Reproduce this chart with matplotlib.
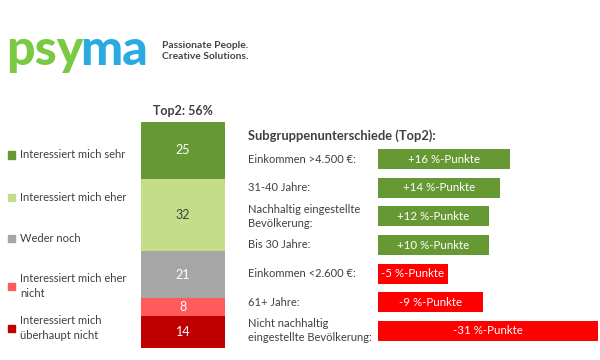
import matplotlib.pyplot as plt
import numpy as np

# Data
categories = ['Interessiert mich sehr', 'Interessiert mich eher', 'Weder noch',
              'Interessiert mich eher\nnicht', 'Interessiert mich\nüberhaupt nicht']
shares = [25, 32, 21, 8, 14]
seg_colors = ['#669933', '#c4dd88', '#a6a6a6', '#ff5b5b', '#c00000']
seg_text_colors = ['white', '#404040', 'white', 'white', 'white']

groups = ['Einkommen >4.500 €:', '31-40 Jahre:', 'Nachhaltig eingestellte\nBevölkerung:',
          'Bis 30 Jahre:', 'Einkommen <2.600 €:', '61+ Jahre:',
          'Nicht nachhaltig\neingestellte Bevölkerung:']
diffs = [16, 14, 12, 10, -5, -9, -31]
# displayed bar lengths (not proportional in original)
bar_lengths = [132, 122, 111, 111, 70, 105, 220]

top2_label = 'Top2: 56%'

plt.rcParams['font.family'] = ['Lato', 'DejaVu Sans']

W, H = 600, 360
fig = plt.figure(figsize=(6, 3.6), dpi=100)


def fx(px):
    return px / W


def fy(py):
    return 1 - py / H


# Logo
t1 = fig.text(fx(6), fy(65), 'psy', color='#7ac943', fontsize=36, fontweight=900,
              va='baseline', ha='left')
fig.text(fx(80), fy(65), 'ma', color='#29abe2', fontsize=36, fontweight=900,
         va='baseline', ha='left')
fig.text(fx(162), fy(51), 'Passionate People.\nCreative Solutions.', color='#444444',
         fontsize=7.4, fontweight='bold', va='center', ha='left', linespacing=1.15)

# Stacked bar
ax1 = fig.add_axes([fx(141), fy(348), fx(84), 226 / H])
bottom = 0
for val, col, tc in zip(shares, seg_colors, seg_text_colors):
    ax1.bar(0, val, bottom=bottom, width=1, color=col, edgecolor='none')
    ax1.text(0, bottom + val / 2, str(val), ha='center', va='center', color=tc, fontsize=9)
    bottom += val
ax1.set_xlim(-0.5, 0.5)
ax1.set_ylim(100, 0)
ax1.axis('off')

fig.text(fx(183), fy(111), top2_label, ha='center', va='center', fontsize=9,
         fontweight='bold', color='#404040')

# Legend on the left
leg_y = [155, 197, 238, 286, 328]
for cat, col, y in zip(categories, seg_colors, leg_y):
    fig.patches.append(plt.Rectangle((fx(8), fy(y) - 3.5 / H), 7 / W, 7 / H,
                                     transform=fig.transFigure, color=col))
    fig.text(fx(20), fy(y), cat, ha='left', va='center', fontsize=8,
             color='#404040', linespacing=1.4)

# Subgroup differences
fig.text(fx(248), fy(136), 'Subgruppenunterschiede (Top2):', ha='left', va='center',
         fontsize=9.3, fontweight='bold', color='#404040')

ax2 = fig.add_axes([fx(378), fy(345), fx(220), 200 / H])
ypos = np.arange(len(diffs))
colors2 = ['#669933' if d > 0 else '#ff0000' for d in diffs]
ax2.barh(ypos, bar_lengths, height=0.7, color=colors2)
for y, d, length in zip(ypos, diffs, bar_lengths):
    ax2.text(length / 2, y, f'{d:+d} %-Punkte', ha='center', va='center', color='white',
             fontsize=8.3)
ax2.set_xlim(0, max(bar_lengths))
ax2.set_ylim(len(diffs) - 0.5, -0.5)
ax2.axis('off')

row_y = 145 + (ypos + 0.5) * 200 / len(diffs)
for g, y in zip(groups, row_y):
    fig.text(fx(248), fy(y), g, ha='left', va='center', fontsize=8, color='#404040',
             linespacing=1.35)

fig.savefig('out.png', dpi=100)
